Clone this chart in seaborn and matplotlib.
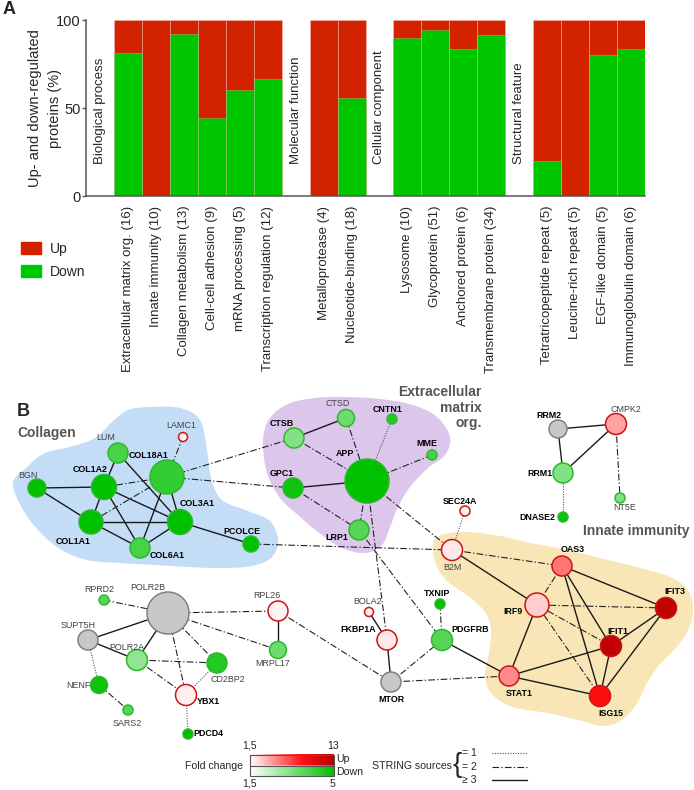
import numpy as np
import pandas as pd
import matplotlib
matplotlib.use("Agg")
import matplotlib.pyplot as plt
import seaborn as sns
from matplotlib.patches import Patch
from matplotlib.colors import LinearSegmentedColormap

# ---------------- panel A data ----------------
terms = ["Extracellular matrix org. (16)", "Innate immunity (10)", "Collagen metabolism (13)",
         "Cell-cell adhesion (9)", "mRNA processing (5)", "Transcription regulation (12)",
         "Metalloprotease (4)", "Nucleotide-binding (18)",
         "Lysosome (10)", "Glycoprotein (51)", "Anchored protein (6)", "Transmembrane protein (34)",
         "Tetratricopeptide repeat (5)", "Leucine-rich repeat (5)", "EGF-like domain (5)",
         "Immunoglobulin domain (6)"]
groups = (["Biological process"] * 6 + ["Molecular function"] * 2 +
          ["Cellular component"] * 4 + ["Structural feature"] * 4)
down_pct = [81.3, 0, 92.3, 44.4, 60.0, 66.7, 0, 55.6, 90.0, 94.1, 83.3, 91.2, 20.0, 0, 80.0, 83.3]
group_names = ["Biological process", "Molecular function", "Cellular component", "Structural feature"]

# ---------------- panel B data ----------------
node_names = ["LAMC1", "LUM", "COL18A1", "BGN", "COL1A2", "COL1A1", "COL3A1", "COL6A1", "PCOLCE",
              "CTSB", "GPC1", "CTSD", "APP", "CNTN1", "MME", "LRP1", "SEC24A", "B2M",
              "RRM2", "CMPK2", "RRM1", "NT5E", "DNASE2",
              "OAS3", "IRF9", "IFIT3", "IFIT1", "STAT1", "ISG15",
              "BOLA2", "FKBP1A", "TXNIP", "PDGFRB", "MTOR",
              "RPRD2", "POLR2B", "SUPT5H", "POLR2A", "CD2BP2", "YBX1", "NENF", "SARS2",
              "RPL26", "MRPL17", "PDCD4"]
# signed fold change: + up, - down, nan = not regulated
fold_change = [1.8, -4.0, -4.3, -5.0, -5.0, -5.5, -5.5, -4.0, -5.0,
               -3.2, -4.8, -3.5, -5.0, -4.5, -4.0, -3.8, 1.8, 2.2,
               np.nan, 4.3, -3.2, -3.2, -4.8,
               5.6, 3.0, 12.5, 12.5, 5.0, 8.8,
               1.8, 2.2, -5.5, -3.8, np.nan,
               -3.8, np.nan, np.nan, -3.0, -4.5, 2.0, -4.8, -3.8,
               1.9, -3.5, -5.0]
node_bold = [0, 0, 1, 0, 1, 1, 1, 1, 1,
             1, 1, 0, 1, 1, 1, 1, 1, 0,
             1, 0, 1, 0, 1,
             1, 1, 1, 1, 1, 1,
             0, 1, 1, 1, 1,
             0, 0, 0, 0, 0, 1, 0, 0,
             0, 0, 1]
edges = [("BGN", "COL1A2", 3), ("BGN", "COL1A1", 3), ("LUM", "COL1A2", 3), ("LUM", "COL3A1", 3),
         ("COL1A2", "COL1A1", 3), ("COL1A2", "COL3A1", 3), ("COL1A2", "COL6A1", 3),
         ("COL1A2", "COL18A1", 2), ("COL1A1", "COL18A1", 2), ("COL1A1", "COL3A1", 3),
         ("COL1A1", "COL6A1", 3), ("COL18A1", "COL3A1", 3), ("COL18A1", "COL6A1", 3),
         ("COL3A1", "COL6A1", 3), ("COL3A1", "PCOLCE", 3), ("COL18A1", "LAMC1", 2),
         ("COL18A1", "CTSB", 2), ("COL18A1", "GPC1", 2), ("PCOLCE", "B2M", 2),
         ("CTSB", "CTSD", 3), ("CTSB", "APP", 2), ("CTSD", "APP", 2), ("CNTN1", "APP", 1),
         ("MME", "APP", 2), ("GPC1", "APP", 3), ("GPC1", "LRP1", 2), ("APP", "LRP1", 2),
         ("APP", "B2M", 2), ("APP", "FKBP1A", 2), ("LRP1", "PDGFRB", 2), ("SEC24A", "B2M", 1),
         ("BOLA2", "FKBP1A", 3), ("FKBP1A", "MTOR", 3), ("MTOR", "PDGFRB", 2),
         ("TXNIP", "PDGFRB", 2), ("PDGFRB", "STAT1", 3), ("MTOR", "STAT1", 2), ("RPL26", "MTOR", 2),
         ("B2M", "OAS3", 2), ("B2M", "IRF9", 3), ("OAS3", "IRF9", 2), ("OAS3", "IFIT3", 3),
         ("OAS3", "IFIT1", 3), ("OAS3", "ISG15", 3), ("IRF9", "IFIT3", 2), ("IRF9", "IFIT1", 2),
         ("IRF9", "ISG15", 2), ("IRF9", "STAT1", 3), ("STAT1", "IFIT1", 3), ("STAT1", "ISG15", 3),
         ("IFIT1", "IFIT3", 3), ("IFIT1", "ISG15", 3), ("IFIT3", "ISG15", 3),
         ("RRM2", "CMPK2", 3), ("RRM2", "RRM1", 3), ("RRM1", "CMPK2", 3), ("RRM1", "DNASE2", 1),
         ("CMPK2", "NT5E", 2),
         ("RPRD2", "POLR2B", 2), ("SUPT5H", "POLR2B", 3), ("SUPT5H", "POLR2A", 3),
         ("SUPT5H", "NENF", 1), ("POLR2A", "POLR2B", 3), ("POLR2A", "CD2BP2", 2),
         ("POLR2A", "YBX1", 2), ("POLR2B", "YBX1", 2), ("POLR2B", "CD2BP2", 2),
         ("POLR2B", "MRPL17", 2), ("POLR2B", "RPL26", 2), ("CD2BP2", "YBX1", 1),
         ("YBX1", "PDCD4", 1), ("NENF", "SARS2", 2), ("RPL26", "MRPL17", 3)]

# ---------------- network layout (pixel space) ----------------
node_x = [183, 118, 167, 37, 104, 91, 180, 140, 251,
          294, 293, 346, 367, 392, 432, 359, 465, 452,
          558, 616, 563, 620, 563,
          562, 537, 666, 611, 509, 600,
          369, 387, 440, 442, 391,
          104, 168, 88, 137, 217, 186, 99, 128,
          278, 278, 188]
node_y = [437, 453, 477, 488, 487, 522, 522, 548, 544,
          438, 488, 418, 481, 419, 455, 530, 511, 550,
          429, 424, 473, 498, 517,
          566, 605, 608, 646, 676, 696,
          612, 640, 604, 640, 682,
          600, 613, 640, 660, 663, 695, 685, 710,
          611, 650, 734]
node_r = [4.5, 10, 17, 9, 12.5, 12, 12.5, 10, 8,
          10, 10, 8.5, 22, 5, 5, 10, 5, 10.5,
          9, 10.5, 10, 5, 5,
          10, 12, 10.5, 10.5, 10, 10.5,
          4.5, 10, 5, 10.5, 10,
          5, 21, 10, 10.5, 10, 10.5, 8.5, 5,
          10, 8.5, 5]
label_x = [181, 106, 149, 28, 90, 73, 197, 167, 242,
           282, 282, 338, 345, 388, 427, 337, 460, 452,
           549, 626, 540, 625, 537,
           573, 513, 675, 618, 519, 611,
           368, 358, 437, 470, 391,
           99, 148, 78, 127, 228, 208, 78, 127,
           267, 273, 208]
label_y = [426, 438, 455, 475, 470, 541, 504, 555, 531,
           423, 473, 404, 453, 409, 444, 537, 501, 567,
           416, 409, 473, 508, 517,
           549, 612, 591, 631, 693, 713,
           602, 629, 593, 629, 699,
           589, 587, 625, 647, 679, 702, 685, 723,
           596, 664, 734]

blob_collagen = [(13, 483), (27, 467), (45, 453), (70, 447), (95, 438), (112, 422), (128, 410),
                 (150, 407), (180, 408), (200, 420), (207, 450), (211, 478), (222, 500),
                 (248, 511), (270, 521), (278, 540), (272, 557), (252, 566), (220, 568),
                 (187, 567), (155, 565), (120, 563), (87, 560), (60, 549), (38, 530), (22, 508)]
blob_ecm = [(263, 440), (270, 418), (288, 404), (315, 398), (345, 397), (380, 399), (413, 405),
            (437, 417), (450, 437), (445, 455), (428, 468), (410, 487), (398, 507), (390, 527),
            (382, 545), (365, 553), (342, 548), (318, 532), (298, 515), (280, 498), (267, 473)]
blob_innate = [(437, 537), (463, 532), (500, 536), (530, 543), (563, 549), (600, 558), (640, 568),
               (670, 577), (688, 590), (693, 610), (688, 630), (676, 648), (660, 664), (647, 683),
               (637, 703), (622, 720), (603, 726), (578, 720), (547, 713), (513, 707), (492, 694),
               (485, 676), (489, 653), (491, 630), (485, 612), (468, 596), (448, 582), (437, 567),
               (433, 550)]

RED = "#d22200"
GREEN = "#00c600"

sns.set_style("white")
plt.rcParams["font.family"] = ["Liberation Sans", "DejaVu Sans"]

fig = plt.figure(figsize=(6.94, 7.9), dpi=100)

# ================= panel A =================
order = []
for g in group_names:
    order.append(g)
    order += [t for t, gg in zip(terms, groups) if gg == g]

df = pd.DataFrame({"term": terms, "group": groups, "down": down_pct})
df["total"] = 100.0

ax = fig.add_axes([86 / 694, 1 - 196 / 790, 559 / 694, 176 / 790])
sns.barplot(data=df, x="term", y="total", order=order, color=RED, saturation=1,
            width=1, errorbar=None, edgecolor=(1, 1, 1, 0.25), linewidth=0.6, ax=ax)
sns.barplot(data=df, x="term", y="down", order=order, color=GREEN, saturation=1,
            width=1, errorbar=None, edgecolor=(1, 1, 1, 0.25), linewidth=0.6, ax=ax)
ax.set_xlim(-0.5, len(order) - 0.5)
ax.set_ylim(0, 100)
ax.set_yticks([0, 50, 100])
ax.tick_params(axis="y", labelsize=10.5, length=3, width=1, color="#555555", pad=1, left=True)
ax.set_xticks([order.index(t) for t in terms])
ax.set_xticklabels(terms, rotation=90, fontsize=9.5)
ax.tick_params(axis="x", length=0, pad=7)
ax.set_xlabel("")
ax.set_ylabel("Up- and down-regulated\nproteins (%)", fontsize=10.5, linespacing=1.55)
ax.yaxis.set_label_coords(-24 / 559, 0.5)
for s in ["top", "right"]:
    ax.spines[s].set_visible(False)
for s in ["left", "bottom"]:
    ax.spines[s].set_color("#555555")
    ax.spines[s].set_linewidth(1.1)
for g in group_names:
    ax.text(order.index(g), 18, g, rotation=90, ha="center", va="bottom", fontsize=9.5)

fig.text(3 / 694, 1 - 9 / 790, "A", fontsize=13, fontweight="bold", va="center")
fig.legend(handles=[Patch(color=RED, label="Up"), Patch(color=GREEN, label="Down")],
           loc="upper left", bbox_to_anchor=(8 / 694, 1 - 229 / 790), frameon=False,
           fontsize=10, handlelength=1.45, handleheight=0.95, labelspacing=0.7,
           handletextpad=0.7)

# ================= panel B =================
axn = fig.add_axes([0, 0, 1, 410 / 790])
axn.axis("off")


def smooth_closed(pts, n=16):
    P = np.asarray(pts, float)
    m = len(P)
    t = np.linspace(0, 1, n, endpoint=False)[:, None]
    out = []
    for i in range(m):
        p0, p1, p2, p3 = P[i - 1], P[i], P[(i + 1) % m], P[(i + 2) % m]
        out.append(0.5 * (2 * p1 + (-p0 + p2) * t + (2 * p0 - 5 * p1 + 4 * p2 - p3) * t ** 2
                          + (-p0 + 3 * p1 - 3 * p2 + p3) * t ** 3))
    return np.vstack(out)


for pts, col in [(blob_collagen, "#c4ddf6"), (blob_ecm, "#dcc6ec"), (blob_innate, "#f8e6b6")]:
    sp = smooth_closed(pts)
    axn.fill(sp[:, 0], sp[:, 1], color=col, lw=0, zorder=0)

cmap_up = LinearSegmentedColormap.from_list("up", [(0, "#ffffff"), (0.62, "#ff1010"), (1, "#b80000")])
cmap_down = LinearSegmentedColormap.from_list("down", ["#ffffff", "#00c000"])

nodes = pd.DataFrame({"name": node_names, "fc": fold_change, "bold": node_bold,
                      "x": node_x, "y": node_y, "r": node_r, "lx": label_x, "ly": label_y})
nodes = nodes.set_index("name")

edge_styles = {1: dict(ls=(0, (1, 1.3)), lw=0.8, color="#555555"),
               2: dict(ls=(0, (6, 2, 1.2, 2)), lw=0.8, color="#222222"),
               3: dict(ls="-", lw=1.0, color="#1a1a1a")}
for a, b, k in edges:
    axn.plot([nodes.loc[a, "x"], nodes.loc[b, "x"]], [nodes.loc[a, "y"], nodes.loc[b, "y"]],
             zorder=1, solid_capstyle="butt", **edge_styles[k])

fills, edgec = [], []
for fc in nodes["fc"]:
    if np.isnan(fc):
        fills.append("#c8c8c8")
        edgec.append("#808080")
    elif fc > 0:
        fills.append(cmap_up(np.clip((fc - 1.5) / (13 - 1.5), 0, 1)))
        edgec.append("#cc1414")
    else:
        fills.append(cmap_down(np.clip((-fc - 1.5) / (5 - 1.5), 0, 1)))
        edgec.append("#2db82d")
axn.scatter(nodes["x"], nodes["y"], s=(2 * nodes["r"] * 0.72) ** 2, c=fills,
            edgecolors=edgec, linewidths=1.1, zorder=2)

for name, row in nodes.iterrows():
    if row["bold"]:
        axn.text(row["lx"], row["ly"], name, fontsize=6.4, fontweight="bold", color="black",
                 ha="center", va="center", zorder=3)
    else:
        axn.text(row["lx"], row["ly"], name, fontsize=6.4, color="#404040",
                 ha="center", va="center", zorder=3)

axn.text(17, 411, "B", fontsize=13, fontweight="bold", va="center", ha="left")
axn.text(17, 433, "Collagen", fontsize=10, fontweight="bold", color="#555555", va="center")
for yy, word in [(392, "Extracellular"), (408, "matrix"), (423, "org.")]:
    axn.text(482, yy, word, fontsize=10, fontweight="bold", color="#555555",
             va="center", ha="right")
axn.text(636, 531, "Innate immunity", fontsize=10, fontweight="bold", color="#555555",
         va="center", ha="center")

# fold change legend
grad = np.linspace(0, 1, 200)[None, :]
axn.imshow(grad, cmap=cmap_up, extent=[250, 334, 765.5, 755], aspect="auto", zorder=2)
axn.imshow(grad, cmap=cmap_down, extent=[250, 334, 776, 765.5], aspect="auto", zorder=2)
axn.plot([250, 334, 334, 250, 250], [755, 755, 776, 776, 755], color="#555555", lw=0.8, zorder=3)
axn.plot([250, 334], [765.5, 765.5], color="#555555", lw=0.8, zorder=3)
fs = 7.6
axn.text(243, 766, "Fold change", fontsize=fs, ha="right", va="center")
axn.text(250, 746, "1,5", fontsize=fs, ha="center", va="center")
axn.text(333, 746, "13", fontsize=fs, ha="center", va="center")
axn.text(250, 784, "1,5", fontsize=fs, ha="center", va="center")
axn.text(333, 784, "5", fontsize=fs, ha="center", va="center")
axn.text(336, 759, "Up", fontsize=fs, ha="left", va="center")
axn.text(336, 772, "Down", fontsize=fs, ha="left", va="center")

axn.text(452, 766, "STRING sources", fontsize=fs, ha="right", va="center")
axn.text(457, 765, "{", fontsize=20, ha="center", va="center", fontweight="light")
for yy, lab, k in [(753, "= 1", 1), (767, "= 2", 2), (780, "\u2265 3", 3)]:
    axn.text(462, yy, lab, fontsize=fs, ha="left", va="center")
    axn.plot([492, 527], [yy, yy], **edge_styles[k])

axn.set_xlim(0, 694)
axn.set_ylim(790, 380)

fig.savefig("out.png", dpi=100)
